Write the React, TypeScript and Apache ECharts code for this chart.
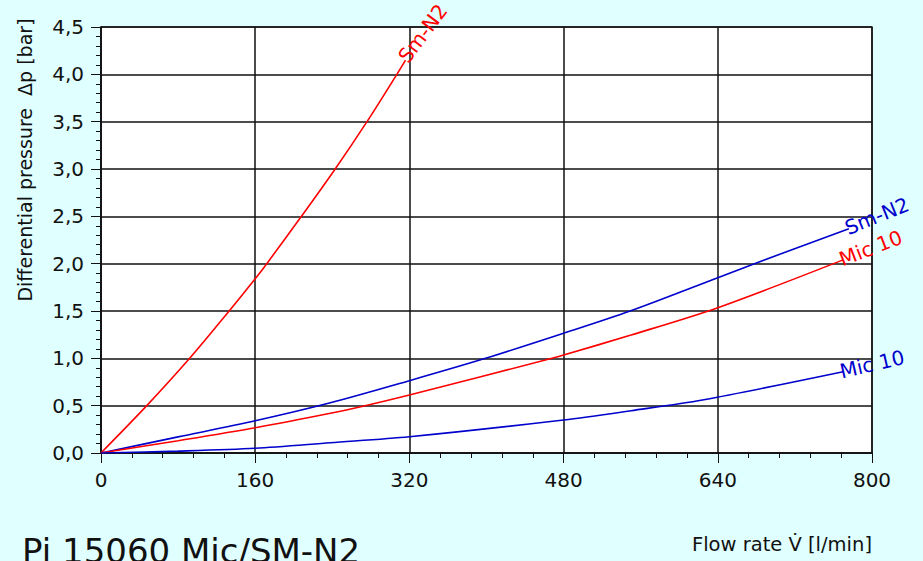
import React, { useEffect, useRef } from "react";
import * as echarts from "echarts";

// Flow rate [l/min] and differential pressure [bar]
const redSmN2Flow = [0, 47.5, 92, 133, 160, 172, 208, 243, 276, 307, 316];
const redSmN2Dp = [0, 0.5, 1.0, 1.5, 1.84, 2.0, 2.5, 3.0, 3.5, 4.0, 4.15];

const blueSmN2Flow = [0, 80, 160, 238, 320, 399, 480, 549, 640, 678, 776];
const blueSmN2Dp = [0, 0.17, 0.34, 0.53, 0.764, 1.0, 1.265, 1.5, 1.852, 2.0, 2.37];

const redMic10Flow = [0, 80, 160, 238, 274, 320, 468, 480, 550, 640, 770];
const redMic10Dp = [0, 0.13, 0.267, 0.42, 0.5, 0.613, 1.0, 1.035, 1.246, 1.535, 2.04];

const blueMic10Flow = [0, 80, 160, 238, 320, 480, 550, 624, 770];
const blueMic10Dp = [0, 0.02, 0.05, 0.109, 0.172, 0.349, 0.447, 0.56, 0.859];

const xMin = 0;
const xMax = 800;
const xInterval = 160;
const yMin = 0;
const yMax = 4.5;
const yInterval = 0.5;

const title = "Pi 15060 Mic/SM-N2";
const xAxisTitle = "Flow rate V\u0307 [l/min]";
const yAxisTitle = "Differential pressure  \u0394p [bar]";

const RED = "#ff0000";
const BLUE = "#0000cc";
const FONT = "'DejaVu Sans', 'Liberation Sans', sans-serif";

function buildData(
  flow: number[],
  dp: number[],
  labelText: string,
  color: string,
  rotate: number
) {
  return flow.map((f, i) => {
    if (i === flow.length - 1) {
      return {
        value: [f, dp[i]],
        label: {
          show: true,
          formatter: labelText,
          position: "right",
          distance: -3,
          rotate,
          align: "left",
          verticalAlign: "middle",
          color,
          fontFamily: FONT,
          fontSize: 20,
        },
      };
    }
    return { value: [f, dp[i]] };
  });
}

function lineSeries(
  flow: number[],
  dp: number[],
  labelText: string,
  color: string,
  rotate: number
) {
  return {
    type: "line",
    data: buildData(flow, dp, labelText, color, rotate),
    smooth: 0.3,
    symbol: "circle",
    symbolSize: 0,
    showSymbol: true,
    lineStyle: { color, width: 1.6 },
    itemStyle: { color },
    emphasis: { disabled: true },
    silent: true,
    z: 5,
  };
}

export default function App() {
  const ref = useRef<HTMLDivElement>(null);
  useEffect(() => {
    document.body.style.margin = "0";
    const chart = echarts.init(ref.current!, null, { renderer: "svg" });
    chart.setOption({
      animation: false,
      backgroundColor: "#e0ffff",
      textStyle: { fontFamily: FONT },
      grid: {
        left: 101,
        right: 51,
        top: 27,
        bottom: 108,
        show: true,
        backgroundColor: "#ffffff",
        borderColor: "#333333",
        borderWidth: 1.5,
        outerBoundsMode: "none",
      },
      xAxis: {
        type: "value",
        min: xMin,
        max: xMax,
        interval: xInterval,
        axisLine: { show: true, lineStyle: { color: "#111", width: 1.5 } },
        axisTick: { show: true, length: 10, lineStyle: { color: "#111", width: 1 } },
        minorTick: { show: true, splitNumber: 5, length: 5, lineStyle: { color: "#111", width: 1 } },
        splitLine: { show: true, lineStyle: { color: "#111", width: 1.5 } },
        axisLabel: { color: "#111", fontSize: 20, fontFamily: FONT, margin: 17 },
      },
      yAxis: {
        type: "value",
        min: yMin,
        max: yMax,
        interval: yInterval,
        axisLine: { show: true, lineStyle: { color: "#111", width: 1.5 } },
        axisTick: { show: true, length: 10, lineStyle: { color: "#111", width: 1 } },
        minorTick: { show: true, splitNumber: 5, length: 5, lineStyle: { color: "#111", width: 1 } },
        splitLine: { show: true, lineStyle: { color: "#111", width: 1.5 } },
        axisLabel: {
          color: "#111",
          fontSize: 20,
          fontFamily: FONT,
          margin: 17,
          formatter: (v: number) => v.toFixed(1).replace(".", ","),
        },
      },
      series: [
        lineSeries(redSmN2Flow, redSmN2Dp, "Sm-N2", RED, 53),
        lineSeries(blueSmN2Flow, blueSmN2Dp, "Sm-N2", BLUE, 22),
        lineSeries(redMic10Flow, redMic10Dp, "Mic 10", RED, 21),
        lineSeries(blueMic10Flow, blueMic10Dp, "Mic 10", BLUE, 13),
      ],
      graphic: [
        {
          type: "text",
          x: 25,
          y: 160,
          rotation: Math.PI / 2,
          style: {
            text: yAxisTitle,
            fontSize: 19,
            fontFamily: FONT,
            fill: "#111",
            align: "center",
            verticalAlign: "middle",
          },
        },
        {
          type: "text",
          x: 872,
          y: 544,
          style: {
            text: xAxisTitle,
            fontSize: 19.5,
            fontFamily: FONT,
            fill: "#111",
            align: "right",
            verticalAlign: "middle",
          },
        },
        {
          type: "text",
          x: 22,
          y: 534,
          style: {
            text: title,
            fontSize: 34,
            fontFamily: FONT,
            fill: "#111",
            align: "left",
            verticalAlign: "top",
          },
        },
      ],
    });
    return () => chart.dispose();
  }, []);
  return <div ref={ref} style={{ width: 923, height: 561 }} />;
}
